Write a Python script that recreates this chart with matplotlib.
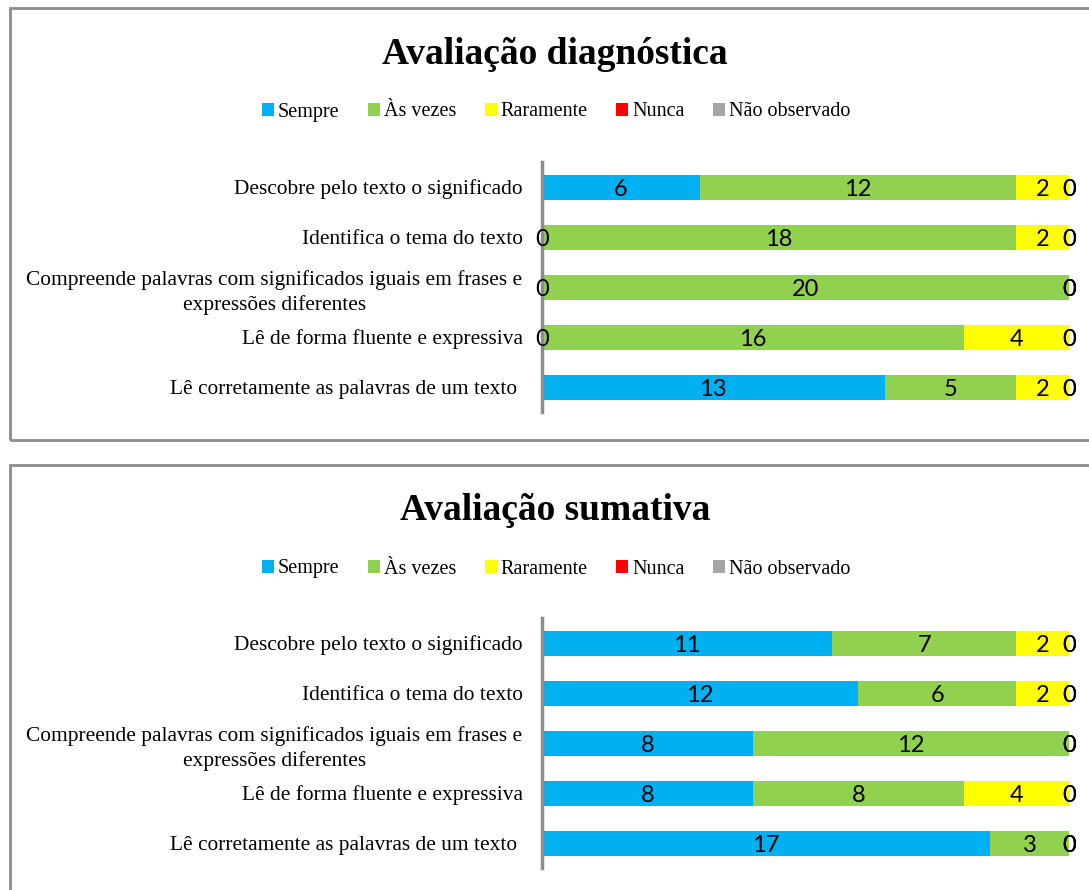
import matplotlib.pyplot as plt
from matplotlib.patches import Rectangle
import numpy as np

categories = [
    "Descobre pelo texto o significado",
    "Identifica o tema do texto",
    "Compreende palavras com significados iguais em frases e\nexpressões diferentes",
    "Lê de forma fluente e expressiva",
    "Lê corretamente as palavras de um texto ",
]
series_names = ["Sempre", "Às vezes", "Raramente", "Nunca", "Não observado"]
colors = ["#00B0F0", "#92D050", "#FFFF00", "#FF0000", "#A6A6A6"]

# avaliação diagnóstica
diag_sempre = [6, 0, 0, 0, 13]
diag_as_vezes = [12, 18, 20, 16, 5]
diag_raramente = [2, 2, 0, 4, 2]
diag_nunca = [0, 0, 0, 0, 0]
diag_nao_obs = [0, 0, 0, 0, 0]

# avaliação sumativa
sum_sempre = [11, 12, 8, 8, 17]
sum_as_vezes = [7, 6, 12, 8, 3]
sum_raramente = [2, 2, 0, 4, 0]
sum_nunca = [0, 0, 0, 0, 0]
sum_nao_obs = [0, 0, 0, 0, 0]

W, H = 1089, 890
fig = plt.figure(figsize=(W / 100, H / 100), dpi=100)
fig.patch.set_facecolor("white")

SERIF = "Liberation Serif"
LABELFONT = "Lato"


def fx(px):
    return px / W


def fy(py):
    return 1 - py / H


def panel(title, data, top_px, ax_top, ax_bot):
    # frame of the chart area
    fig.patches.append(Rectangle((fx(10), fy(top_px + 432)), fx(1100), 432 / H,
                                 transform=fig.transFigure, fill=False,
                                 edgecolor="#8c8c8c", linewidth=2, zorder=0))
    ax = fig.add_axes([fx(542), fy(ax_bot), fx(1069 - 542), (ax_bot - ax_top) / H])
    y = np.arange(len(categories))
    left = np.zeros(len(categories))
    handles = []
    for name, vals, col in zip(series_names, data, colors):
        vals = np.array(vals, dtype=float)
        b = ax.barh(y, vals, left=left, height=0.5, color=col, label=name, zorder=2)
        handles.append(b)
        for yi, l, v in zip(y, left, vals):
            ax.text(l + v / 2, yi + 0.02, f"{int(v)}", ha="center", va="center_baseline",
                    fontsize=17, family=LABELFONT, color="black", zorder=6,
                    clip_on=False)
        left = left + vals
    ax.set_xlim(0, 20)
    ax.set_ylim(len(categories) - 0.5, -0.5)
    ax.set_yticks(y)
    ax.set_yticklabels(categories, family=SERIF, fontsize=15.4)
    for lbl in ax.get_yticklabels():
        lbl.set_multialignment("center")
        lbl.set_linespacing(1.4)
    ax.tick_params(axis="y", length=0, pad=14)
    ax.set_xticks([])
    for s in ["top", "right", "bottom"]:
        ax.spines[s].set_visible(False)
    ax.spines["left"].set_color("#8c8c8c")
    ax.spines["left"].set_linewidth(2.5)
    ax.spines["left"].set_zorder(4)
    ax.patch.set_alpha(0)

    fig.text(fx(555), fy(top_px + 46), title, ha="center", va="center",
             family=SERIF, fontweight="bold", fontsize=27)
    fig.legend(handles=handles, labels=series_names, loc="center",
               bbox_to_anchor=(fx(556), fy(top_px + 104)), ncol=5, frameon=False,
               prop={"family": SERIF, "size": 14.5}, handlelength=0.6,
               handleheight=0.6, handletextpad=0.2, columnspacing=1.4,
               borderaxespad=0)
    return ax


panel("Avaliação diagnóstica",
      [diag_sempre, diag_as_vezes, diag_raramente, diag_nunca, diag_nao_obs],
      8, 162, 412)
panel("Avaliação sumativa",
      [sum_sempre, sum_as_vezes, sum_raramente, sum_nunca, sum_nao_obs],
      465, 618, 868)

fig.savefig("out.png", dpi=100)
